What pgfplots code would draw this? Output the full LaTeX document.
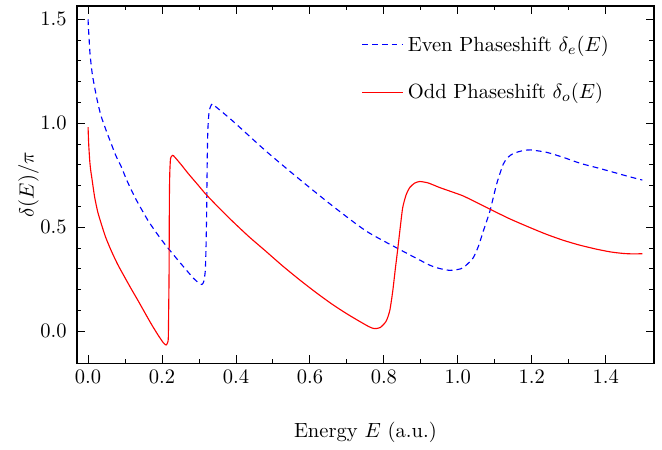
\documentclass[border=0pt]{standalone}
\usepackage{pgfplots}
\pgfplotsset{compat=1.18}

\begin{document}
\begin{tikzpicture}
\begin{axis}[
    scale only axis,
    width=281pt, height=174pt,
    xmin=-0.03, xmax=1.53,
    ymin=-0.154, ymax=1.563,
    xtick={0,0.2,0.4,0.6,0.8,1.0,1.2,1.4},
    ytick={0,0.5,1.0,1.5},
    minor x tick num=1,
    minor y tick num=4,
    tick align=inside,
    xtick pos=both, ytick pos=both,
    major tick length=4pt,
    minor tick length=2.1pt,
    tick style={black, line width=0.45pt},
    axis line style={line width=0.7pt},
    xticklabel style={/pgf/number format/.cd, fixed, fixed zerofill, precision=1},
    yticklabel style={xshift=-1.5pt, /pgf/number format/.cd, fixed, fixed zerofill, precision=1},
    xlabel={Energy $E$ (a.u.)},
    ylabel={$\delta(E)/\pi$},
    xlabel style={yshift=-12pt},
    ylabel style={yshift=-6pt},
    legend style={draw=none, fill=none, at={(0.93,0.93)}, anchor=north east,
        row sep=10pt, inner sep=0pt},
    legend cell align=left,
    legend image code/.code={\draw[#1] (0pt,0pt) -- (20pt,0pt);},
]
\addplot[blue, line width=0.55pt, dash pattern=on 2.8pt off 2pt, smooth, tension=0.4] coordinates {
(0.000,1.50) (0.001,1.46) (0.003,1.40) (0.005,1.34) (0.009,1.27)
(0.012,1.23) (0.016,1.19) (0.023,1.125) (0.030,1.07) (0.036,1.03)
(0.043,0.995) (0.050,0.96) (0.063,0.90) (0.075,0.845) (0.090,0.79)
(0.105,0.725) (0.127,0.643) (0.145,0.585) (0.163,0.53) (0.185,0.473)
(0.208,0.418) (0.245,0.338) (0.285,0.255) (0.300,0.232)
(0.308,0.225) (0.313,0.24) (0.317,0.29) (0.319,0.40) (0.3205,0.55)
(0.3215,0.70) (0.3225,0.85) (0.324,0.97) (0.327,1.05) (0.331,1.08)
(0.336,1.093) (0.345,1.08) (0.390,1.013) (0.480,0.868) (0.571,0.732)
(0.661,0.603) (0.752,0.482) (0.842,0.394) (0.924,0.318) (0.955,0.300)
(0.978,0.293) (1.000,0.297) (1.014,0.305) (1.030,0.33) (1.042,0.354)
(1.056,0.41) (1.069,0.482) (1.087,0.579) (1.105,0.708) (1.123,0.804)
(1.135,0.835) (1.150,0.855) (1.175,0.868) (1.196,0.872) (1.241,0.86)
(1.287,0.835) (1.332,0.807) (1.377,0.786) (1.422,0.764) (1.460,0.745)
(1.499,0.727)
};
\addlegendentry{Even Phaseshift $\delta_e(E)$}
\addplot[red, line width=0.55pt, smooth, tension=0.4] coordinates {
(0.000,0.981) (0.001,0.93) (0.002,0.89) (0.0045,0.82) (0.007,0.775)
(0.010,0.74) (0.014,0.69) (0.018,0.643) (0.026,0.575) (0.036,0.515)
(0.048,0.450) (0.063,0.386) (0.080,0.322) (0.100,0.257) (0.118,0.200)
(0.136,0.145) (0.154,0.088) (0.172,0.032) (0.190,-0.02) (0.204,-0.056)
(0.211,-0.066) (0.215,-0.055) (0.217,-0.032)
(0.218,0.10) (0.219,0.257) (0.2195,0.45) (0.220,0.65) (0.221,0.76)
(0.223,0.83) (0.227,0.843) (0.231,0.844) (0.250,0.805) (0.272,0.756)
(0.299,0.70) (0.317,0.662) (0.353,0.595) (0.390,0.53) (0.435,0.455)
(0.480,0.386) (0.525,0.316) (0.571,0.249) (0.616,0.187) (0.661,0.129)
(0.700,0.084) (0.734,0.048) (0.760,0.022) (0.774,0.013)
(0.790,0.018) (0.806,0.048) (0.816,0.10) (0.824,0.193) (0.831,0.30)
(0.838,0.402) (0.845,0.51) (0.851,0.595) (0.860,0.655) (0.870,0.691)
(0.883,0.712) (0.897,0.72) (0.920,0.713) (0.951,0.691) (0.983,0.671)
(1.014,0.651) (1.050,0.620) (1.087,0.587) (1.140,0.541) (1.196,0.498)
(1.240,0.466) (1.286,0.437) (1.330,0.414) (1.377,0.394) (1.415,0.381)
(1.449,0.374) (1.475,0.372) (1.499,0.373)
};
\addlegendentry{Odd Phaseshift $\delta_o(E)$}
\end{axis}
\path ([xshift=-37.5pt]current axis.west) ([xshift=4pt]current axis.east)
    ([yshift=3pt]current axis.north);
\end{tikzpicture}
\end{document}
